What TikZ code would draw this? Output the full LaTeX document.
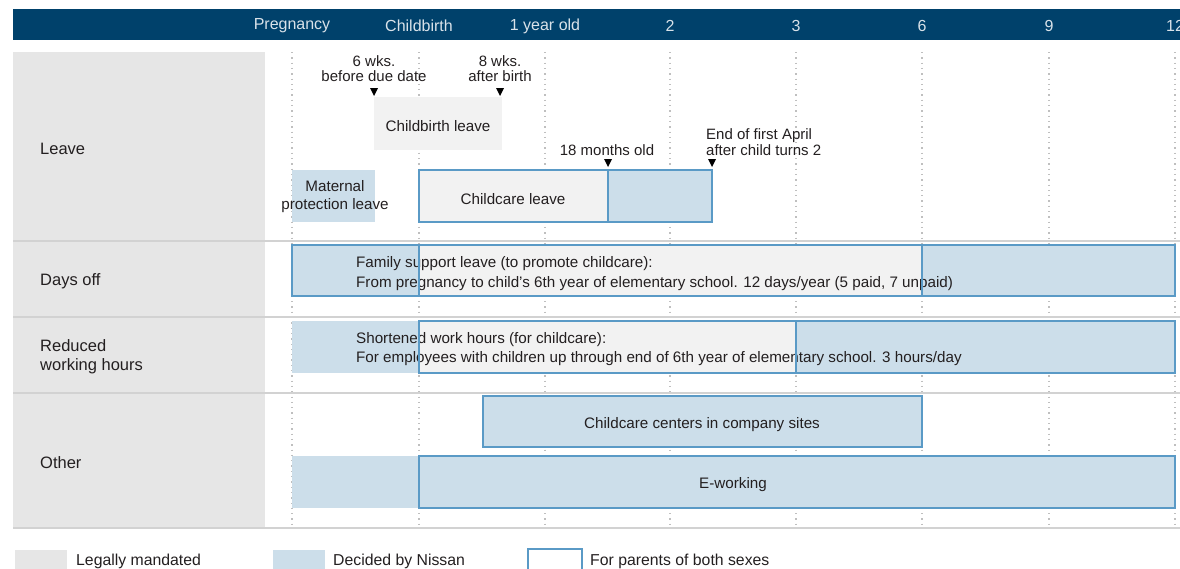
\documentclass[tikz,border=0pt]{standalone}
\usepackage{fontspec}
\setmainfont{Liberation Sans}
\usetikzlibrary{positioning}
\definecolor{navy}{HTML}{00416B}
\definecolor{nissanblue}{HTML}{CCDEEA}
\definecolor{edgeblue}{HTML}{5A9AC6}
\definecolor{colgray}{HTML}{E6E6E6}
\definecolor{lawgray}{HTML}{F2F2F2}
\definecolor{ink}{HTML}{231F20}

\begin{document}
\begin{tikzpicture}[x=1pt, y=-1pt,
    txt/.style = {font=\fontsize{15.2}{19}\selectfont, text=ink, inner sep=0pt},
    small/.style = {font=\fontsize{15}{15}\selectfont, text=ink, inner sep=0pt, align=center},
    head/.style = {font=\fontsize{16}{17}\selectfont, text=white!85!navy, inner sep=0pt},
    rowname/.style = {txt, font=\fontsize{16.5}{19}\selectfont, anchor=west, align=left},
    legend/.style = {txt, font=\fontsize{15.8}{19}\selectfont, anchor=west},
    grid/.style = {gray!50, line width=1.3pt, dash pattern=on 1.3pt off 4pt},
    sep/.style = {gray!35, line width=1.2pt},
    outline/.style = {draw=edgeblue, line width=1.4pt},
    marker/.style = {fill=black}]
    \useasboundingbox (0,0) rectangle (1180,568);

    % header
    \fill[navy] (13,9) rectangle (1180,40);
    \foreach \x/\t [count=\i] in {292/Pregnancy, 419/Childbirth, 545/1 year old, 670/2, 796/3, 922/6, 1049/9, 1175/12}
        \node[head] (h\i) at (\x,26) {\t};

    % left column, grid and row lines
    \fill[colgray] (13,52) rectangle (265,528);
    \foreach \x in {292,419,545,670,796,922,1049,1175}
        \draw[grid] (\x,52) -- (\x,528);
    \foreach \y in {241,317,393,528}
        \draw[sep] (13,\y) -- (1180,\y);

    \node[rowname] (leave) at (40,148.5) {Leave};
    \node[rowname] (daysoff) at (40,281.5) {Days off};
    \node[rowname] (reduced) at (40,357) {Reduced\\working hours};
    \node[rowname] (other) at (40,462.5) {Other};

    % leave
    \fill[lawgray] (374,97) rectangle (502,150);
    \node[txt] (cbl) at (438,126) {Childbirth leave};
    \node[small] (before) at (374,68.5) {6 wks.\\before due date};
    \node[small] (after) at (500,68.5) {8 wks.\\after birth};
    \fill[nissanblue] (292,170) rectangle (375,222);
    \node[txt, align=center, font=\fontsize{15.2}{18}\selectfont] (mpl) at (335,196.5) {Maternal\\protection leave};
    \fill[lawgray] (419,170) rectangle (608,222);
    \fill[nissanblue] (608,170) rectangle (712,222);
    \draw[outline] (419,170) rectangle (712,222);
    \draw[outline] (608,170) -- (608,222);
    \node[txt] (ccl) at (513,199.5) {Childcare leave};
    \node[small] (m18) at (607,150) {18 months old};
    \node[small, anchor=west, align=left, font=\fontsize{15}{16}\selectfont] (april) at (706,142) {End of first April\\after child turns 2};
    \foreach \x/\y in {374/88, 500/88, 608/159, 712/159}
        \fill[marker] (\x-4,\y) -- (\x+4,\y) -- (\x,\y+8) -- cycle;

    % days off
    \fill[nissanblue] (292,245) rectangle (419,296);
    \fill[lawgray] (419,245) rectangle (922,296);
    \fill[nissanblue] (922,245) rectangle (1175,296);
    \node[txt, anchor=west, align=left, font=\fontsize{15.2}{20}\selectfont] (fsl) at (356,273.5)
        {Family support leave (to promote childcare):\\From pregnancy to child's 6th year of elementary school. 12 days/year (5 paid, 7 unpaid)};
    \draw[outline] (292,245) rectangle (1175,296);
    \draw[outline] (419,245) -- (419,296);
    \draw[outline] (922,245) -- (922,296);

    % reduced working hours
    \fill[nissanblue] (292,321) rectangle (419,373);
    \fill[lawgray] (419,321) rectangle (796,373);
    \fill[nissanblue] (796,321) rectangle (1175,373);
    \node[txt, anchor=west, align=left] (swh) at (356,349)
        {Shortened work hours (for childcare):\\For employees with children up through end of 6th year of elementary school. 3 hours/day};
    \draw[outline] (419,321) rectangle (1175,373);
    \draw[outline] (796,321) -- (796,373);

    % other
    \fill[nissanblue, outline] (483,396) rectangle (922,447);
    \node[txt] (ccc) at (702,425) {Childcare centers in company sites};
    \fill[nissanblue] (292,456) rectangle (419,508);
    \fill[nissanblue, outline] (419,456) rectangle (1175,508);
    \node[txt] (ework) at (733,485) {E-working};

    % legend
    \fill[colgray] (15,550) rectangle (67,570);
    \node[legend] (leg1) at (76,561.5) {Legally mandated};
    \fill[nissanblue] (273,550) rectangle (325,570);
    \node[legend] (leg2) at (333,561.5) {Decided by Nissan};
    \draw[outline, fill=white] (528,549) rectangle (582,570);
    \node[legend] (leg3) at (590,561.5) {For parents of both sexes};
\end{tikzpicture}
\end{document}
